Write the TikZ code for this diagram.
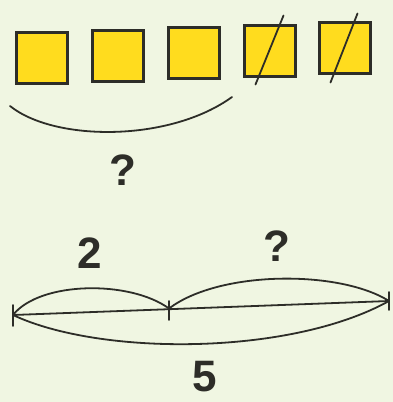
\documentclass[tikz,border=0pt]{standalone}
\usepackage{fontspec}
\setmainfont{Liberation Sans}
\definecolor{bg}{RGB}{240,246,226}
\definecolor{sq}{RGB}{255,220,30}
\definecolor{ink}{RGB}{45,45,40}
\begin{document}
\begin{tikzpicture}[x=1pt,y=-1pt,
  box/.style={draw=ink,fill=sq,line width=3pt,minimum size=51pt,inner sep=0pt,rectangle},
  stroke/.style={draw=ink,line width=1.8pt,line cap=round},
  lbl/.style={text=ink,font=\fontsize{44}{44}\selectfont\bfseries,inner sep=0pt}]
\fill[bg] (0,0) rectangle (393,402);
\useasboundingbox (0,0) rectangle (393,402);
% squares
\node[box] (s1) at (42,58) {};
\node[box] (s2) at (118,56) {};
\node[box] (s3) at (194,53) {};
\node[box] (s4) at (269.5,50.5) {};
\node[box] (s5) at (344.5,47.5) {};
\draw[stroke] ([shift={(-14,34)}]s4.center) -- ([shift={(14,-35)}]s4.center);
\draw[stroke] ([shift={(-14,35)}]s5.center) -- ([shift={(13,-34)}]s5.center);
% brace under first three
\coordinate (b1) at (10,106);
\coordinate (b2) at (232,97);
\draw[stroke] (b1) .. controls (55,142) and (170,142) .. (b2);
\node[lbl] (q1) at (123,170) {?};
% segment diagram
\coordinate (A) at (13,315);
\coordinate (M) at (169,308.5);
\coordinate (B) at (389,301);
\draw[stroke] (A) -- (B);
\draw[stroke] (13,305) -- (13,326);
\draw[stroke] (169,301) -- (169,320);
\draw[stroke] (389,292) -- (389,310);
\draw[stroke] (A) .. controls (40,281) and (130,280) .. (M);
\draw[stroke] (M) .. controls (220,270) and (340,270) .. (B);
\draw[stroke] (A) .. controls (100,356) and (290,356) .. (B);
\node[lbl] (two) at (90,253) {2};
\node[lbl] (q2) at (277,246) {?};
\node[lbl] (five) at (205,377) {5};
\end{tikzpicture}
\end{document}
